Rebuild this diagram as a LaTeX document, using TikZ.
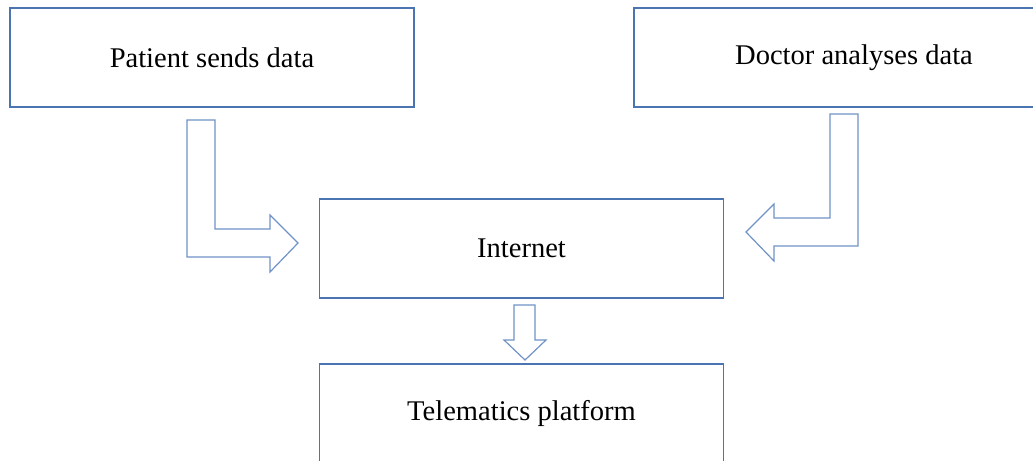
\documentclass[tikz,border=0pt]{standalone}
\usepackage{fontspec}
\setmainfont{Liberation Serif}
\definecolor{boxblue}{RGB}{74,116,178}
\definecolor{arrowblue}{RGB}{112,146,198}
\tikzset{
  stepbox/.style={draw=boxblue, line width=1pt, minimum width=303pt,
    minimum height=74.25pt, font=\fontsize{21.4}{25}\selectfont},
  blockarrow/.style={draw=arrowblue, line width=0.9pt, line join=miter}
}
\begin{document}
\begin{tikzpicture}[x=0.75pt,y=-0.75pt]
  \useasboundingbox (0,0) rectangle (1033,461);
  \clip (0,0) rectangle (1033,461);
  \node[stepbox] (patient) at (212,57.5) {Patient sends data};
  \node[stepbox, minimum width=330pt] (doctor) at (854,57.5) {Doctor analyses data};
  \node[stepbox] (internet) at (521.5,248.5) {Internet};
  \node[stepbox] (platform) at (521.5,413.5) {Telematics platform};
  % bent arrows into the internet box
  \draw[blockarrow] (187,120) -- (215,120) -- (215,229) -- (270,229) -- (270,215)
    -- (298,243) -- (270,272) -- (270,257) -- (187,257) -- cycle;
  \draw[blockarrow] (858,114) -- (830,114) -- (830,218) -- (774,218) -- (774,204)
    -- (746,232) -- (774,261) -- (774,246) -- (858,246) -- cycle;
  % down to the platform
  \draw[blockarrow] (514,305) -- (535,305) -- (535,340) -- (546,340) -- (525,360)
    -- (504,340) -- (514,340) -- cycle;
\end{tikzpicture}
\end{document}
